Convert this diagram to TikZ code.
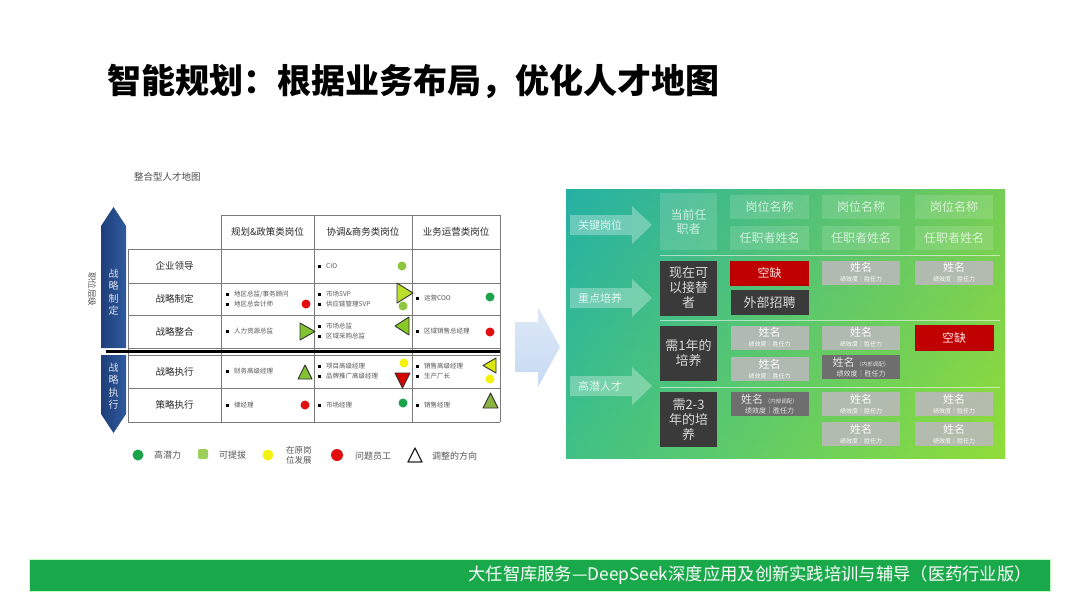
\documentclass[tikz,border=0pt]{standalone}
\usepackage{fontspec}
\setmainfont{Noto Sans CJK SC}
\usetikzlibrary{shapes.geometric}
\definecolor{tline}{HTML}{7A7A7A}
\definecolor{ttext}{HTML}{555555}
\definecolor{navy}{HTML}{1F3E7A}
\definecolor{navyl}{HTML}{2E5A9C}
\definecolor{dgreen}{HTML}{1BA34C}
\definecolor{lgreen}{HTML}{8DC63F}
\definecolor{yel}{HTML}{F2F20A}
\definecolor{red1}{HTML}{E01010}
\definecolor{panL}{HTML}{2DB4A4}
\definecolor{panR}{HTML}{8FD645}
\definecolor{darkbox}{HTML}{3A3A3A}
\definecolor{midgray}{HTML}{6E6E6E}
\definecolor{lgray}{HTML}{B9B9B9}
\definecolor{redbox}{HTML}{C00000}
\definecolor{footg}{HTML}{19A94A}
\definecolor{arrowb}{HTML}{C7DAF2}
\newcommand\bul{\textcolor{black}{\raisebox{0.6pt}{\rule{3pt}{3pt}}}\hspace{5pt}}
\tikzset{
 fz/.style 2 args={font=\fontsize{#1}{#2}\selectfont},
 cell/.style={anchor=west,inner sep=0pt,align=left,text=ttext,fz={6.5}{10}},
 rowlab/.style={inner sep=0pt,text=black!85,fz={9.5}{11}},
 hdr/.style={inner sep=0pt,text=black!85,fz={9.5}{11}},
 grid/.style={draw=tline,line width=0.8pt},
 dot/.style={circle,inner sep=0pt,minimum size=9pt},
 tri/.style={draw=black!80,line width=0.9pt,line join=round},
 leg/.style={anchor=west,inner sep=0pt,text=ttext,fz={9}{10.5}},
 pbox/.style={rectangle,inner sep=0pt,align=center},
 glass/.style={pbox,fill=white,fill opacity=0.14,text opacity=0.7,text=white,fz={12}{14}},
 gbox/.style={pbox,fill=lgray,fill opacity=0.9,text opacity=0.95,text=white,fz={11}{11}},
 mbox/.style={pbox,fill=midgray,text=black!10,fz={11}{11}},
 hbox/.style={pbox,fill=darkbox,text=black!15,fz={13}{15}},
 rbox/.style={pbox,fill=redbox,text=white!90!red,fz={12}{14},draw=red!70!black,line width=0.6pt},
 parrow/.style={fill=white,fill opacity=0.3},
 plab/.style={inner sep=0pt,text=white,text opacity=0.8,fz={11}{12}},
 sep/.style={draw=white,draw opacity=0.55,line width=1pt}
}
\newcommand\nm{\fontsize{11}{12}\selectfont 姓名\\[-1pt]\fontsize{6}{7}\selectfont 绩效度｜胜任力}
\newcommand\nmi{\fontsize{11}{12}\selectfont 姓名\,{\fontsize{5.5}{6}\selectfont（内部调配）}\\[-1pt]\fontsize{7}{8}\selectfont 绩效度｜胜任力}
\begin{document}
\begin{tikzpicture}[x=1pt,y=-1pt]
\useasboundingbox (0,0) rectangle (1080,608);
\fill[white] (0,0) rectangle (1080,608);
% title
\node[anchor=west,inner sep=0pt,font=\bfseries\fontsize{34}{36}\selectfont] (title) at (107,81) {智能规划：根据业务布局，优化人才地图};

% ===== left talent map =====
\node[anchor=west,inner sep=0pt,text=black!70,fz={9.5}{11}] (mapt) at (134,177) {整合型人才地图};
% table grid
\draw[grid] (221,215) -- (500,215);
\foreach \yy in {249,283,315,348,355,388,422} \draw[grid] (128,\yy) -- (500,\yy);
\draw[grid] (128,249) -- (128,422);
\foreach \xx in {221,314,412,500} \draw[grid] (\xx,215) -- (\xx,422);
\draw[black,line width=3pt] (106,351.5) -- (500,351.5);
% headers
\node[hdr] (h1) at (267.5,232) {规划\&政策类岗位};
\node[hdr] (h2) at (363,232) {协调\&商务类岗位};
\node[hdr] (h3) at (456,232) {业务运营类岗位};
% row labels
\node[rowlab] (r1) at (174.5,266) {企业领导};
\node[rowlab] (r2) at (174.5,299) {战略制定};
\node[rowlab] (r3) at (174.5,331.5) {战略整合};
\node[rowlab] (r4) at (174.5,371.5) {战略执行};
\node[rowlab] (r5) at (174.5,405) {策略执行};
% cells
\node[cell] (c12) at (318,266) {\bul CIO};
\node[cell] (c21) at (226,299) {\bul 地区总监/事务顾问\\\bul 地区总会计师};
\node[cell] (c22) at (318,299) {\bul 市场SVP\\\bul 供应链管理SVP};
\node[cell] (c23) at (416,298) {\bul 运营COO};
\node[cell] (c31) at (226,331.5) {\bul 人力资源总监};
\node[cell] (c32) at (318,331.5) {\bul 市场总监\\\bul 区域采购总监};
\node[cell] (c33) at (416,331.5) {\bul 区域销售总经理};
\node[cell] (c41) at (226,371.5) {\bul 财务高级经理};
\node[cell] (c42) at (318,371.5) {\bul 项目高级经理\\\bul 品牌推广高级经理};
\node[cell] (c43) at (416,371.5) {\bul 销售高级经理\\\bul 生产厂长};
\node[cell] (c51) at (226,405) {\bul 律经理};
\node[cell] (c52) at (318,405) {\bul 市场经理};
\node[cell] (c53) at (416,405) {\bul 销售经理};
% dots
\node[dot,fill=lgreen] (d1) at (402,266) {};
\node[dot,fill=red1] (d2) at (306,304) {};
\node[dot,fill=lgreen] (d3) at (403,306) {};
\node[dot,fill=dgreen] (d4) at (490,297) {};
\node[dot,fill=red1] (d5) at (490,332) {};
\node[dot,fill=yel] (d6) at (404,363) {};
\node[dot,fill=yel] (d7) at (490,379) {};
\node[dot,fill=red1] (d8) at (305,405) {};
\node[dot,fill=dgreen] (d9) at (403,403) {};
% triangles
\draw[tri,fill=yellow!70!green!90] (397,283) -- (413,293) -- (397,303) -- cycle;
\draw[tri,fill=green!45!yellow!70!black!80] (300,323) -- (315,331.5) -- (300,340) -- cycle;
\draw[tri,fill=green!40!yellow!75!black!85] (409,317) -- (395,326) -- (409,335) -- cycle;
\draw[tri,fill=green!45!yellow!70!black!80] (298,379) -- (305,365) -- (312,379) -- cycle;
\draw[tri,fill=red!85!black] (395,373) -- (410,373) -- (402.5,388) -- cycle;
\draw[tri,fill=yellow!85!green] (496,358) -- (483,365.5) -- (496,373) -- cycle;
\draw[tri,fill=green!35!yellow!60!black!75] (483,408) -- (490.5,393) -- (498,408) -- cycle;
% vertical arrows
\shade[left color=navy,right color=navyl] (101,348) -- (101,226) -- (113.5,207) -- (126,226) -- (126,348) -- cycle;
\shade[left color=navy,right color=navyl] (101,355) -- (126,355) -- (126,414) -- (113.5,433) -- (101,414) -- cycle;
\node[inner sep=0pt,align=center,text=white!85!navy,fz={10}{12.5}] (v1) at (113.5,292) {战\\略\\制\\定};
\node[inner sep=0pt,align=center,text=white!85!navy,fz={10}{12.5}] (v2) at (113.5,386) {战\\略\\执\\行};
\node[rotate=-90,inner sep=0pt,text=ttext,fz={8.5}{10}] (lvl) at (92,289) {职位层级};
% legend
\node[dot,fill=dgreen,minimum size=11pt] (l1) at (138,455) {};
\node[leg] (l1t) at (154,455) {高潜力};
\node[fill=lgreen!85!white,minimum size=10pt,inner sep=0pt,rounded corners=2pt] (l2) at (203,454) {};
\node[leg] (l2t) at (219,455) {可提拔};
\node[dot,fill=yel,minimum size=11pt] (l3) at (268,455) {};
\node[leg,align=center,fz={8.5}{10}] (l3t) at (286,455) {在原岗\\位发展};
\node[dot,fill=red1,minimum size=12pt] (l4) at (337,455) {};
\node[leg] (l4t) at (355,456) {问题员工};
\draw[black!85,line width=1.3pt,line join=round] (408,462) -- (415,448) -- (422,462) -- cycle;
\node[leg] (l5t) at (432,456) {调整的方向};

% middle arrow
\shade[top color=arrowb!60!white,bottom color=arrowb] (515,322) -- (538,322) -- (538,307) -- (560,347) -- (538,387) -- (538,372) -- (515,372) -- cycle;

% ===== right panel =====
\shade[left color=panL,right color=panR] (566,189) rectangle (1005,458);
\shade[top color=teal!70!cyan,bottom color=yellow!60!green,opacity=0.18] (566,189) rectangle (1005,458);
% side arrows
\foreach \cy/\lab/\nn in {225/关键岗位/a1,298/重点培养/a2,386/高潜人才/a3}{
  \fill[parrow] (570,\cy-10) -- (632,\cy-10) -- (632,\cy-19) -- (652,\cy) -- (632,\cy+19) -- (632,\cy+10) -- (570,\cy+10) -- cycle;
  \node[plab] (\nn) at (600,\cy) {\lab};
}
% separators
\draw[sep] (660,255) -- (1000,255);
\draw[sep] (660,320) -- (1000,320);
\draw[sep] (660,387) -- (1000,387);
% row 1
\node[glass,minimum width=57pt,minimum height=57pt] (cur) at (688.5,221.5) {当前任\\职者};
\node[glass,minimum width=79pt,minimum height=24pt] (p1) at (769.5,207) {岗位名称};
\node[glass,minimum width=78pt,minimum height=24pt] (p2) at (861,207) {岗位名称};
\node[glass,minimum width=78pt,minimum height=24pt] (p3) at (954,207) {岗位名称};
\node[glass,minimum width=79pt,minimum height=24pt] (q1) at (769.5,238) {任职者姓名};
\node[glass,minimum width=78pt,minimum height=24pt] (q2) at (861,238) {任职者姓名};
\node[glass,minimum width=78pt,minimum height=24pt] (q3) at (954,238) {任职者姓名};
% row 2
\node[hbox,minimum width=57pt,minimum height=55pt] (k2) at (688.5,288) {现在可\\以接替\\者};
\node[rbox,minimum width=78pt,minimum height=24pt] (v21) at (769.5,273) {空缺};
\node[hbox,minimum width=78pt,minimum height=25pt] (e21) at (769.5,302.5) {外部招聘};
\node[gbox,minimum width=78pt,minimum height=24pt] (g22) at (861,272.5) {\nm};
\node[gbox,minimum width=78pt,minimum height=24pt] (g23) at (954,272.5) {\nm};
% row 3
\node[hbox,minimum width=57pt,minimum height=55pt] (k3) at (688.5,353.5) {需1年的\\培养};
\node[gbox,minimum width=78pt,minimum height=24pt] (g31) at (769.5,337.5) {\nm};
\node[gbox,minimum width=78pt,minimum height=24pt] (g31b) at (769.5,369) {\nm};
\node[gbox,minimum width=78pt,minimum height=24pt] (g32) at (861,337.5) {\nm};
\node[mbox,minimum width=78pt,minimum height=24pt] (m32) at (861,367) {\nmi};
\node[rbox,minimum width=78pt,minimum height=25pt] (v33) at (954,337.5) {空缺};
% row 4
\node[hbox,minimum width=57pt,minimum height=55pt] (k4) at (688.5,419.5) {需2-3\\年的培\\养};
\node[mbox,minimum width=78pt,minimum height=24pt] (m41) at (769.5,404) {\nmi};
\node[gbox,minimum width=78pt,minimum height=24pt] (g42) at (861,404) {\nm};
\node[gbox,minimum width=78pt,minimum height=24pt] (g42b) at (861,434) {\nm};
\node[gbox,minimum width=78pt,minimum height=24pt] (g43) at (954,404) {\nm};
\node[gbox,minimum width=78pt,minimum height=24pt] (g43b) at (954,434) {\nm};

% ===== footer =====
\draw[green!25!white,line width=2.5pt] (30,560) rectangle (1050,591);
\fill[footg] (30,560) rectangle (1050,591);
\node[anchor=east,inner sep=0pt,text=white,fz={17.3}{19}] (foot) at (1032,575.5) {大任智库服务—DeepSeek深度应用及创新实践培训与辅导（医药行业版）};
\end{tikzpicture}
\end{document}
